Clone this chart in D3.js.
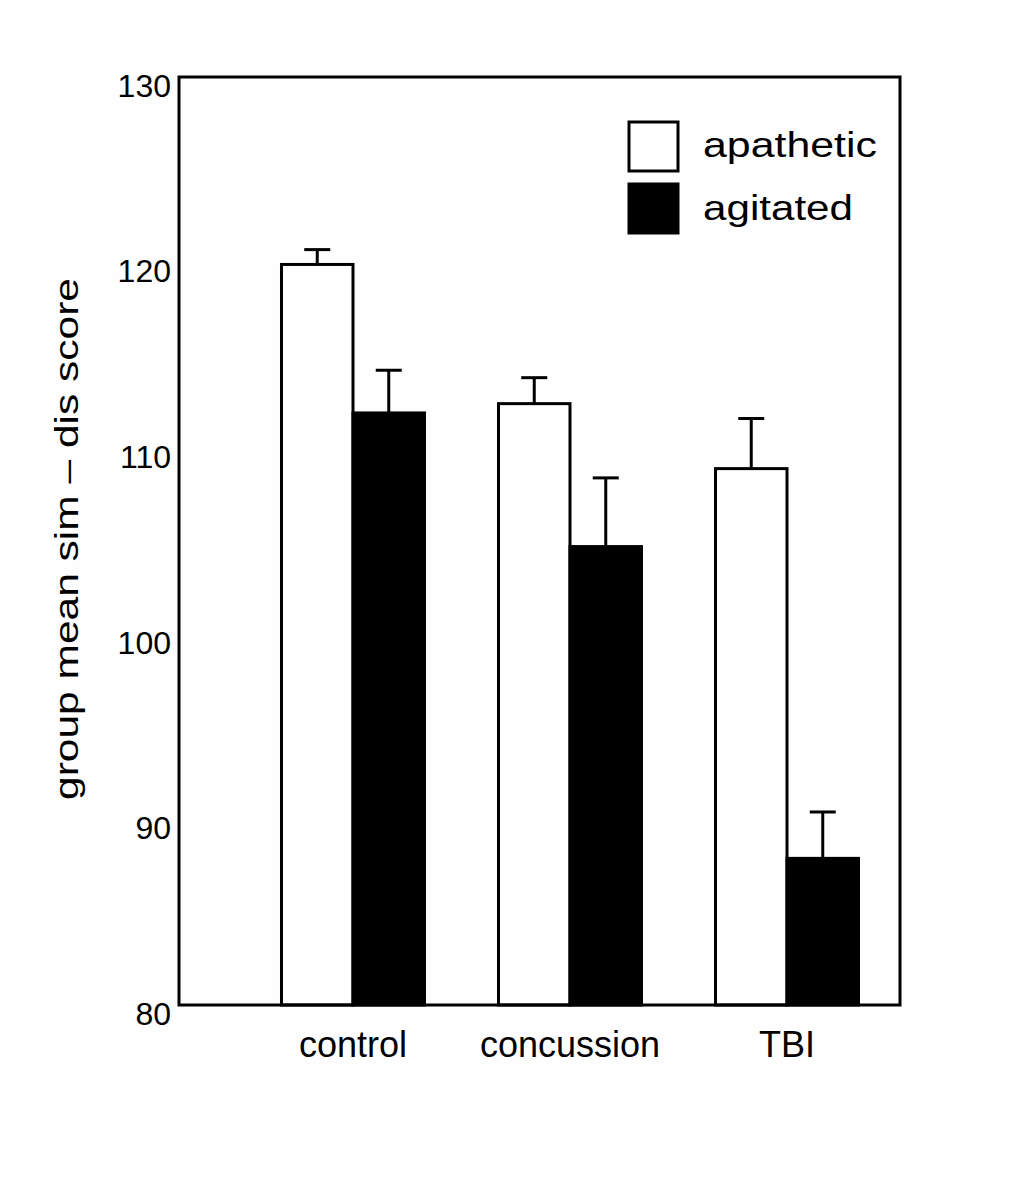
<!DOCTYPE html>
<html>
<head>
<meta charset="utf-8">
<script src="https://cdn.jsdelivr.net/npm/d3@7"></script>
<style>
  html, body { margin: 0; padding: 0; background: #fefefe; }
  svg { display: block; }
  text { font-family: Arial, "Liberation Sans", Helvetica, sans-serif; fill: #000; }
</style>
</head>
<body>
<script>
const categories = ["control", "concussion", "TBI"];
const seriesNames = ["apathetic", "agitated"];
const apatheticMeans = [119.9, 112.4, 108.9];
const apatheticErrors = [0.8, 1.4, 2.7];
const agitatedMeans = [111.9, 104.7, 87.9];
const agitatedErrors = [2.3, 3.7, 2.5];
const yTicks = [80, 90, 100, 110, 120, 130];
const yLabel = "group mean sim \u2013 dis score";

const W = 1016, H = 1177;
const frame = { left: 179, right: 900, top: 77, bottom: 1005 };
const seriesFill = ["#ffffff", "#000000"];

const svg = d3.select("body").append("svg").attr("width", W).attr("height", H);
svg.append("rect").attr("width", W).attr("height", H).attr("fill", "#fefefe");

const y = d3.scaleLinear().domain([80, 130]).range([frame.bottom, frame.top]);
const x0 = d3.scaleBand().domain(categories).range([244.5, 895.5])
  .paddingInner(0.341).paddingOuter(0.1705);
const x1 = d3.scaleBand().domain(seriesNames).range([0, x0.bandwidth()]);

const data = categories.map((c, i) => ({
  cat: c,
  values: [
    { s: "apathetic", v: apatheticMeans[i], e: apatheticErrors[i] },
    { s: "agitated", v: agitatedMeans[i], e: agitatedErrors[i] }
  ]
}));

const groups = svg.append("g").selectAll("g").data(data).join("g")
  .attr("transform", d => `translate(${x0(d.cat)},0)`);

groups.selectAll("g.err").data(d => d.values).join("g").attr("class", "err").each(function(d) {
  const g = d3.select(this);
  const cx = x1(d.s) + x1.bandwidth() / 2;
  g.append("line").attr("x1", cx).attr("x2", cx)
    .attr("y1", y(d.v)).attr("y2", y(d.v + d.e))
    .attr("stroke", "#000").attr("stroke-width", 3);
  g.append("line").attr("x1", cx - 13).attr("x2", cx + 13)
    .attr("y1", y(d.v + d.e)).attr("y2", y(d.v + d.e))
    .attr("stroke", "#000").attr("stroke-width", 3);
});

groups.selectAll("rect").data(d => d.values).join("rect")
  .attr("x", d => x1(d.s))
  .attr("y", d => y(d.v))
  .attr("width", x1.bandwidth())
  .attr("height", d => y(80) - y(d.v))
  .attr("fill", d => seriesFill[seriesNames.indexOf(d.s)])
  .attr("stroke", "#000")
  .attr("stroke-width", 3);

svg.append("rect")
  .attr("x", frame.left).attr("y", frame.top)
  .attr("width", frame.right - frame.left).attr("height", frame.bottom - frame.top)
  .attr("fill", "none").attr("stroke", "#000").attr("stroke-width", 3);

const yAxis = d3.axisLeft(y).tickValues(yTicks).tickSize(0).tickPadding(7);
const gy = svg.append("g").attr("transform", `translate(${frame.left - 1},0)`).call(yAxis);
gy.select(".domain").remove();
gy.selectAll("text").attr("font-size", 32).attr("dy", "0.6em")
  .attr("font-family", "Arial, 'Liberation Sans', sans-serif").attr("fill", "#000");

const xAxis = d3.axisBottom(x0).tickSize(0).tickPadding(0);
const gx = svg.append("g").attr("transform", `translate(0,${frame.bottom})`).call(xAxis);
gx.select(".domain").remove();
gx.selectAll("text").attr("font-size", 36).attr("y", 52).attr("dy", 0)
  .attr("font-family", "Arial, 'Liberation Sans', sans-serif").attr("fill", "#000");

svg.append("text")
  .attr("transform", "translate(78,539) rotate(-90)")
  .attr("text-anchor", "middle")
  .attr("font-size", 34)
  .attr("textLength", 522)
  .attr("lengthAdjust", "spacingAndGlyphs")
  .text(yLabel);

const legend = svg.append("g");
const legendRows = [
  { name: seriesNames[0], fill: seriesFill[0], boxY: 122, baseline: 157, len: 174 },
  { name: seriesNames[1], fill: seriesFill[1], boxY: 184, baseline: 220, len: 150 }
];
legendRows.forEach(r => {
  legend.append("rect").attr("x", 629).attr("y", r.boxY).attr("width", 49).attr("height", 49)
    .attr("fill", r.fill).attr("stroke", "#000").attr("stroke-width", 3);
  legend.append("text").attr("x", 703).attr("y", r.baseline)
    .attr("font-size", 35)
    .attr("textLength", r.len).attr("lengthAdjust", "spacingAndGlyphs")
    .text(r.name);
});
</script>
</body>
</html>
